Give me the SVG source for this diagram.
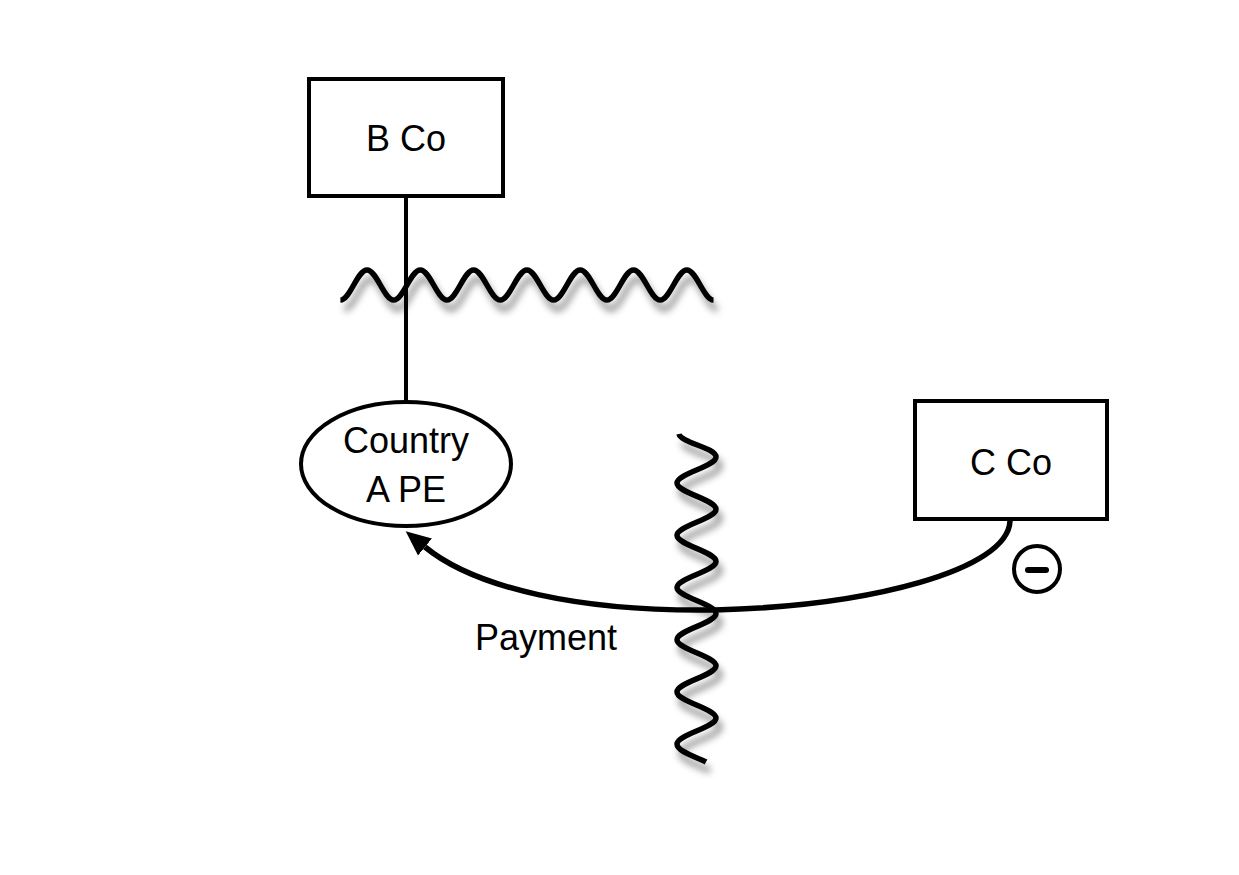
<svg xmlns="http://www.w3.org/2000/svg" width="1239" height="875" viewBox="0 0 1239 875">
<style>
.box{fill:#fff;stroke:#000;stroke-width:4}
.lbl{font-family:"Liberation Sans",Arial,sans-serif;font-size:36px;fill:#000;text-anchor:middle}
.wave{fill:none;stroke:#000;stroke-width:5.5;stroke-linecap:butt}
.conn{fill:none;stroke:#000;stroke-width:4}
.arrow{fill:none;stroke:#000;stroke-width:5.5}
</style>
<defs>
<filter id="shadow" filterUnits="userSpaceOnUse" x="0" y="0" width="1239" height="875">
<feGaussianBlur in="SourceAlpha" stdDeviation="3.5"/>
<feOffset dx="4" dy="9" result="b"/>
<feFlood flood-color="#000" flood-opacity="0.42"/>
<feComposite in2="b" operator="in"/>
<feMerge><feMergeNode/><feMergeNode in="SourceGraphic"/></feMerge>
</filter>
<marker id="ah" markerUnits="userSpaceOnUse" markerWidth="30" markerHeight="30" viewBox="0 -15 30 30" refX="0" refY="0" orient="auto">
<path d="M0,-11 L25,0 L0,11 z" fill="#000"/>
</marker>
</defs>
<rect width="1239" height="875" fill="#fff"/>
<g id="borders">
<path id="border-h" class="wave" filter="url(#shadow)" d="M 340.4 300 C 350.1 300 357.3 270 367 270 S 384 300 393.7 300 S 410.6 270 420.3 270 S 437.3 300 447 300 S 463.9 270 473.6 270 S 490.6 300 500.3 300 S 517.2 270 526.9 270 S 543.9 300 553.6 300 S 570.5 270 580.2 270 S 597.2 300 606.9 300 S 623.8 270 633.5 270 S 650.5 300 660.2 300 S 677.1 270 686.8 270 S 703.8 300 713.5 300"/>
<path id="border-v" class="wave" filter="url(#shadow)" d="M 679 434 C 681 443 716 447.5 716 457 S 677 473.6 677 483.1 S 716 499.7 716 509.2 S 677 525.8 677 535.3 S 716 551.9 716 561.4 S 677 578 677 587.5 S 716 604.1 716 613.6 S 677 630.2 677 639.7 S 716 656.3 716 665.8 S 677 682.4 677 691.9 S 716 708.5 716 718 S 677 734.6 677 744.1 C 677 752 699 758 706 762"/>
</g>
<g id="connectors">
<line class="conn" x1="406" y1="196" x2="406" y2="402"/>
<path class="arrow" marker-end="url(#ah)" d="M 1010 521 C 1008 570 870 606 715 610 C 580 612 475 588 425 547"/>
</g>
<g id="bco">
<rect class="box" x="309" y="79" width="194" height="117"/>
<text class="lbl" x="406" y="151">B Co</text>
</g>
<g id="pe">
<ellipse class="box" cx="406" cy="464" rx="105" ry="62"/>
<text class="lbl" x="406" y="453">Country</text>
<text class="lbl" x="406" y="502">A PE</text>
</g>
<g id="cco">
<rect class="box" x="915" y="401" width="192" height="118"/>
<text class="lbl" x="1011" y="475">C Co</text>
</g>
<g id="minus">
<circle cx="1037" cy="569" r="23" fill="#fff" stroke="#000" stroke-width="4"/>
<line x1="1028" y1="570" x2="1046" y2="570" stroke="#000" stroke-width="6" stroke-linecap="round"/>
</g>
<g id="payment">
<text class="lbl" x="546" y="650">Payment</text>
</g>
</svg>
